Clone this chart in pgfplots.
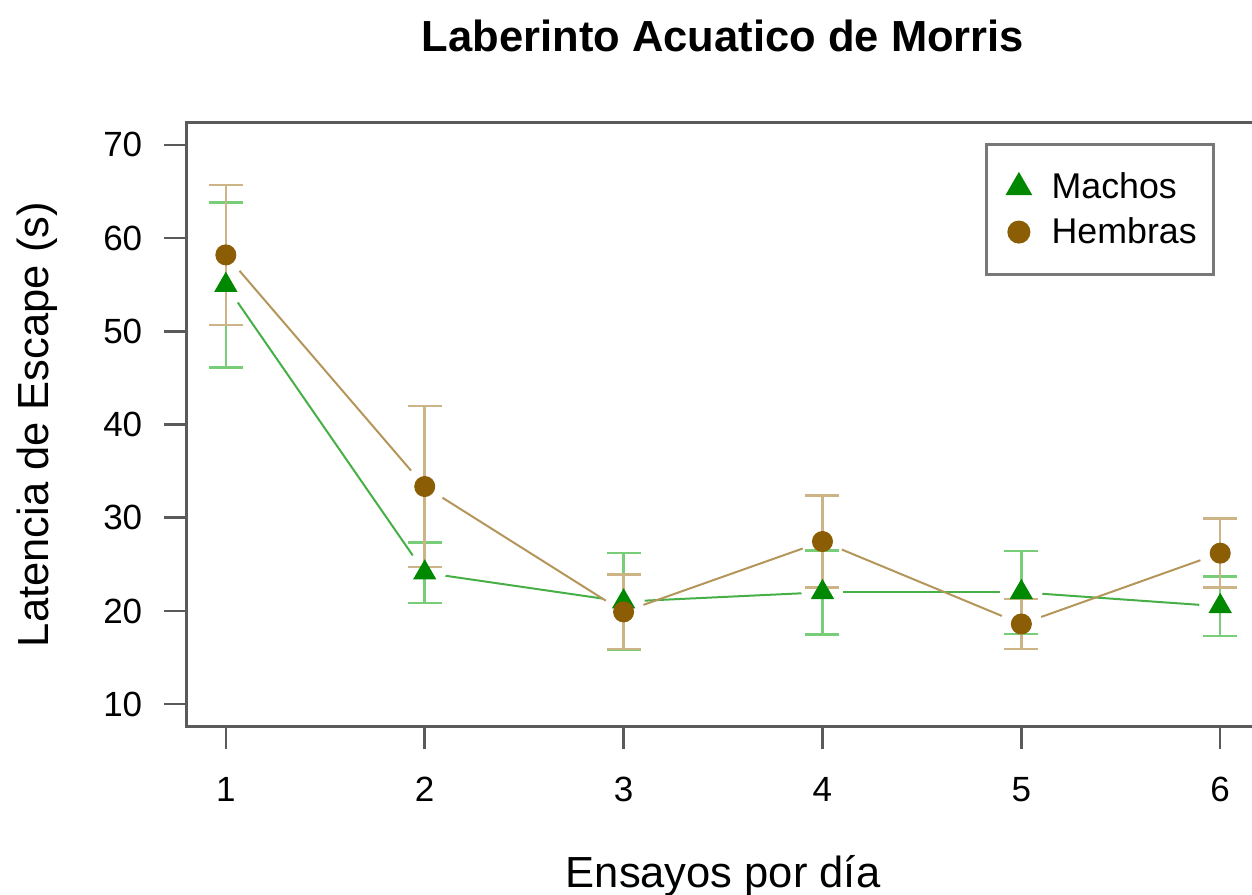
\documentclass[border=0pt]{standalone}
\usepackage{fontspec}
\setmainfont{Liberation Sans}
\usepackage{pgfplots}
\pgfplotsset{compat=1.18}
\definecolor{boxgray}{RGB}{90,90,90}
\definecolor{leggray}{RGB}{120,120,120}
\definecolor{mgreen}{RGB}{0,136,0}
\definecolor{lgreen}{RGB}{70,175,70}
\definecolor{egreen}{RGB}{120,205,120}
\definecolor{hbrown}{RGB}{139,94,6}
\definecolor{hline}{RGB}{180,150,90}
\definecolor{herr}{RGB}{205,180,135}

\pgfplotstableread{
x y e
1 54.95 8.85
2 24.10 3.25
3 21.00 5.20
4 22.00 4.50
5 22.00 4.45
6 20.50 3.20
}\machos
\pgfplotstableread{
x y e
1 58.20 7.50
2 33.35 8.65
3 19.90 4.00
4 27.45 4.95
5 18.60 2.70
6 26.20 3.70
}\hembras

\begin{document}
\begin{tikzpicture}
\begin{axis}[
  name=ax,
  scale only axis,
  width=429.4pt, height=241.5pt,
  xmin=0.8, xmax=6.2, ymin=7.6, ymax=72.4,
  xtick={1,2,3,4,5,6}, ytick={10,20,30,40,50,60,70},
  tick pos=left,
  tick align=outside,
  major tick length=8.8pt,
  axis line style={draw=boxgray, line width=1.2pt},
  tick style={draw=boxgray, line width=1pt},
  /pgf/number format/assume math mode=true,
  ticklabel style={font=\fontsize{14}{17}\selectfont},
  xticklabel style={anchor=north, yshift=-8pt},
  yticklabel style={anchor=east, xshift=-5.2pt},
  title={Laberinto Acuatico de Morris},
  title style={at={(axis description cs:0.5,1)}, anchor=base, yshift=22.4pt, font=\bfseries\fontsize{17.4}{20}\selectfont},
  xlabel={Ensayos por día},
  every axis x label/.style={at={(axis description cs:0.5,0)}, yshift=-64.2pt, anchor=base, font=\fontsize{17.4}{20}\selectfont},
  ylabel={Latencia de Escape (s)},
  every axis y label/.style={at={(axis description cs:0,0.5)}, xshift=-55pt, rotate=90, anchor=base, font=\fontsize{17.4}{20}\selectfont},
  legend style={at={(axis cs:5.975,70.2)}, anchor=north east, draw=leggray, line width=1.2pt,
    font=\fontsize{14.3}{17}\selectfont, inner xsep=4.8pt, inner ysep=9.2pt, row sep=2pt},
  legend image code/.code={\path (-7.6pt,0pt) (10.5pt,0pt); \draw[#1] plot coordinates {(0pt,0pt)};},
  legend cell align=left,
  clip=false,
]
\addlegendimage{only marks, mark=triangle*, mark size=5pt, color=mgreen}
\addlegendentry{Machos}
\addlegendimage{only marks, mark=*, mark size=4pt, color=hbrown}
\addlegendentry{Hembras}

% error bars
\addplot[forget plot, draw=none, mark=none, error bars/.cd, y dir=both, y explicit,
  error bar style={color=egreen, line width=1pt},
  error mark options={rotate=90, mark size=6.8pt, line width=1pt, color=egreen}]
  table[x=x, y=y, y error=e] {\machos};
\addplot[forget plot, draw=none, mark=none, error bars/.cd, y dir=both, y explicit,
  error bar style={color=herr, line width=1pt},
  error mark options={rotate=90, mark size=6.8pt, line width=1pt, color=herr}]
  table[x=x, y=y, y error=e] {\hembras};

% connecting segments (type b)
\pgfplotsset{seg/.style={forget plot, mark=none, line width=0.8pt, shorten >=8.4pt, shorten <=8.4pt}}
\addplot[seg, lgreen] coordinates {(1,54.95) (2,24.10)};
\addplot[seg, lgreen] coordinates {(2,24.10) (3,21.00)};
\addplot[seg, lgreen] coordinates {(3,21.00) (4,22.00)};
\addplot[seg, lgreen] coordinates {(4,22.00) (5,22.00)};
\addplot[seg, lgreen] coordinates {(5,22.00) (6,20.50)};
\addplot[seg, hline] coordinates {(1,58.20) (2,33.35)};
\addplot[seg, hline] coordinates {(2,33.35) (3,19.90)};
\addplot[seg, hline] coordinates {(3,19.90) (4,27.45)};
\addplot[seg, hline] coordinates {(4,27.45) (5,18.60)};
\addplot[seg, hline] coordinates {(5,18.60) (6,26.20)};

% markers
\addplot[forget plot, only marks, mark=triangle*, mark size=5pt, color=mgreen] table[x=x, y=y] {\machos};
\addplot[forget plot, only marks, mark=*, mark size=4pt, color=hbrown] table[x=x, y=y] {\hembras};
\end{axis}
\pgfresetboundingbox
\path[use as bounding box] ([xshift=-74.4pt, yshift=-67pt]ax.south west) rectangle ([xshift=-3.2pt, yshift=49pt]ax.north east);
\end{tikzpicture}
\end{document}
